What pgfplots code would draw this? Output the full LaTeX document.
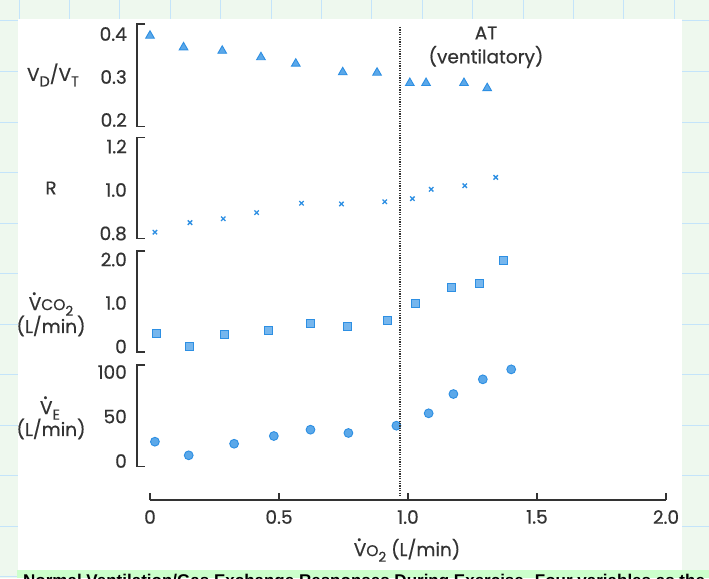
\documentclass[border=0pt]{standalone}
\usepackage{pgfplots}
\pgfplotsset{compat=1.18}
\usepackage{fontspec}
\setmainfont{Poppins}[FakeBold=0.5]
\newfontfamily\capfont{Liberation Sans}
\definecolor{bg}{HTML}{EEF8EE}
\definecolor{gridb}{HTML}{C4E4FA}
\definecolor{capbg}{HTML}{CCFFCC}
\definecolor{mk}{HTML}{2D8FE3}
\definecolor{ax}{HTML}{333333}
\newcommand{\Vdot}{\rlap{\hspace{0.17em}\raisebox{0.82em}{\fontsize{22}{22}\selectfont .}}V}
\newcommand{\fs}{\fontsize{18.5}{21}\selectfont}
\pgfplotsset{
  panel/.style={scale only axis, width=529pt, xmin=-0.0504, xmax=2,
    hide x axis, clip=false, axis line style={draw=none},
    major tick length=0pt, ytick style={draw=none},
    yticklabel style={font=\fs, color=ax, anchor=east, inner sep=0pt, xshift=-10pt},
    anchor=south west},
  mks/.style={only marks, draw=mk, fill=mk!78!white, line width=0.9pt}
}
\newcommand{\bracket}{\draw[ax, line width=1.4pt] ([xshift=8pt]rel axis cs:0,1) -- (rel axis cs:0,1) -- (rel axis cs:0,0) -- ([xshift=8pt]rel axis cs:0,0);}
\begin{document}
\begin{tikzpicture}[x=1pt,y=1pt]
\useasboundingbox (0,0) rectangle (709,-578);
\fill[bg] (0,0) rectangle (709,-578);
\foreach \i in {0,...,13} \draw[gridb, line width=1pt] ({19+50.4*\i},0) -- ({19+50.4*\i},-578);
\foreach \j in {0,...,11} \draw[gridb, line width=1pt] (0,{-21-50.5*\j}) -- (709,{-21-50.5*\j});
\fill[white] (18,-19) rectangle (682,-570);
\fill[capbg] (17,-570) rectangle (709,-578);
\node[anchor=north west, inner sep=0pt, font=\capfont\bfseries\fontsize{17}{19}\selectfont] at (23,-574) {Normal Ventilation/Gas Exchange Responses During Exercise. Four variables as the};

% Panel 1: VD/VT
\begin{axis}[panel, at={(137pt,-126.7pt)}, height=102.7pt, ymin=0.1844, ymax=0.4233,
  ytick={0.2,0.3,0.4}, yticklabels={0.2,0.3,0.4}]
\bracket
\addplot[mks, mark=triangle*, mark size=5pt] coordinates {
(0.00,0.396) (0.13,0.369) (0.28,0.361) (0.43,0.346) (0.565,0.331) (0.747,0.311)
(0.88,0.310) (1.007,0.286) (1.07,0.286) (1.217,0.286) (1.307,0.274)};
\end{axis}

% Panel 2: R
\begin{axis}[panel, at={(137pt,-238.7pt)}, height=101.2pt, ymin=0.7761, ymax=1.2414,
  ytick={0.8,1.0,1.2}, yticklabels={0.8,1.0,1.2}]
\bracket
\addplot[only marks, draw=mk, line width=1.3pt, mark=x, mark size=3.1pt] coordinates {
(0.019,0.806) (0.155,0.850) (0.284,0.868) (0.413,0.896) (0.587,0.939) (0.742,0.936)
(0.91,0.946) (1.017,0.960) (1.09,1.003) (1.22,1.020) (1.34,1.058)};
\end{axis}

% Panel 3: VCO2
\begin{axis}[panel, at={(137pt,-352pt)}, height=101pt, ymin=-0.126, ymax=2.195,
  ytick={0,1,2}, yticklabels={0,1.0,2.0}]
\bracket
\addplot[mks, mark=square*, mark size=4pt, fill=mk!65!white] coordinates {
(0.024,0.30) (0.152,0.0) (0.29,0.28) (0.46,0.38) (0.62,0.52) (0.765,0.47)
(0.92,0.59) (1.03,0.98) (1.17,1.36) (1.275,1.46) (1.368,1.98)};
\end{axis}

% Panel 4: VE
\begin{axis}[panel, at={(137pt,-466.7pt)}, height=101.7pt, ymin=-6.4, ymax=107.9,
  ytick={0,50,100}, yticklabels={0,50,100}]
\bracket
\addplot[mks, mark=*, mark size=4.4pt] coordinates {
(0.019,21.7) (0.15,6.4) (0.326,19.4) (0.48,28.1) (0.622,35.2) (0.769,31.5)
(0.955,39.7) (1.08,53.6) (1.176,75.3) (1.29,91.8) (1.40,103.0)};
\end{axis}

% Bottom x axis
\begin{axis}[scale only axis, width=516pt, height=20pt, at={(150pt,-500pt)}, anchor=south west,
  xmin=0, xmax=2, ymin=0, ymax=1, axis x line*=bottom, hide y axis,
  xtick={0,0.5,1,1.5,2}, xticklabels={0,0.5,1.0,1.5,2.0},
  xtick align=inside, major tick length=7pt,
  axis line style={ax, line width=1.4pt}, xtick style={ax, line width=1.4pt},
  xticklabel style={font=\fs, color=ax, anchor=north, inner sep=0pt, yshift=-10pt}]
\end{axis}

% AT line and labels
\draw[ax, line width=1.3pt, dash pattern=on 1.2pt off 1.2pt] (400,-27) -- (400,-497);
\node[font=\fs, color=ax] at (486,-33) {AT};
\node[font=\fs, color=ax] at (486,-57) {(ventilatory)};

% Y labels
\node[font=\fs, color=ax] at (53,-75) {V\raisebox{-0.3em}{\fontsize{14.5}{15}\selectfont D}/V\raisebox{-0.3em}{\fontsize{14.5}{15}\selectfont T}};
\node[font=\fs, color=ax] at (51,-188) {R};
\node[font=\fs, color=ax] at (51,-304) {\Vdot{\fontsize{15.5}{16}\selectfont CO}\raisebox{-0.3em}{\fontsize{13.5}{14}\selectfont 2}};
\node[font=\fs, color=ax] at (51,-326) {(L/min)};
\node[font=\fs, color=ax] at (50,-408) {\Vdot\raisebox{-0.3em}{\fontsize{14.5}{15}\selectfont E}};
\node[font=\fs, color=ax] at (51,-429) {(L/min)};
\node[font=\fs, color=ax] at (407,-550) {\Vdot{\fontsize{15.5}{16}\selectfont O}\raisebox{-0.3em}{\fontsize{13.5}{14}\selectfont 2} (L/min)};
\end{tikzpicture}
\end{document}
